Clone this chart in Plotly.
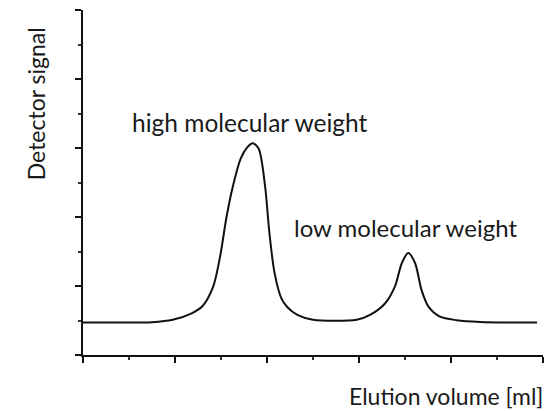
import plotly.graph_objects as go

# Data (elution volume vs detector signal, arbitrary units)
elution_volume = [0.0, 1.0, 1.5, 1.95, 2.35, 2.6, 2.83, 2.98, 3.12, 3.26, 3.43, 3.57, 3.69,
                  3.82, 3.96, 4.05, 4.16, 4.31, 4.44, 4.66, 5.0, 5.95, 6.24, 6.57, 6.78,
                  6.93, 7.07, 7.22, 7.36, 7.51, 7.76, 8.12, 8.63, 9.87]
detector_signal = [0.94, 0.94, 0.95, 1.02, 1.2, 1.42, 1.98, 2.85, 4.0, 4.9, 5.7, 6.02, 6.14,
                   5.98, 4.87, 3.57, 2.41, 1.65, 1.39, 1.16, 1.02, 1.02, 1.16, 1.5, 1.98,
                   2.66, 2.96, 2.66, 1.88, 1.4, 1.11, 1.01, 0.96, 0.94]

peak_labels = ["high molecular weight", "low molecular weight"]
x_title = "Elution volume [ml]"
y_title = "Detector signal"

FONT = "Lato"
TXT = "#1a1a1a"

fig = go.Figure()
fig.add_trace(go.Scatter(
    x=elution_volume, y=detector_signal, mode="lines",
    line=dict(color="#111111", width=2, shape="spline", smoothing=0.8),
    showlegend=False, hoverinfo="skip",
))

axis_common = dict(
    range=[0, 10], showgrid=False, zeroline=False, showticklabels=False,
    showline=True, linecolor="#111111", linewidth=2,
    ticks="outside", ticklen=6, tickwidth=2, tickcolor="#111111",
    tick0=0, dtick=2,
    minor=dict(ticks="outside", ticklen=3, tickwidth=1.5, tickcolor="#333333", dtick=1),
    fixedrange=True,
)

fig.update_layout(
    width=551, height=411,
    margin=dict(l=83, r=8, t=10, b=56),
    paper_bgcolor="white", plot_bgcolor="white",
    xaxis=axis_common,
    yaxis=axis_common,
    annotations=[
        dict(text=peak_labels[0], xref="paper", yref="paper", x=0.363, y=0.675,
             xanchor="center", yanchor="middle", showarrow=False,
             font=dict(family=FONT, size=24.5, color=TXT)),
        dict(text=peak_labels[1], xref="paper", yref="paper", x=0.702, y=0.371,
             xanchor="center", yanchor="middle", showarrow=False,
             font=dict(family=FONT, size=24, color=TXT)),
        dict(text=x_title, xref="paper", yref="paper", x=1.004, y=-0.118,
             xanchor="right", yanchor="middle", showarrow=False,
             font=dict(family=FONT, size=23, color=TXT)),
        dict(text=y_title, xref="paper", yref="paper", x=-0.102, y=0.727,
             xanchor="center", yanchor="middle", showarrow=False, textangle=-90,
             font=dict(family=FONT, size=23, color=TXT)),
    ],
)

fig.write_html("out.html")
